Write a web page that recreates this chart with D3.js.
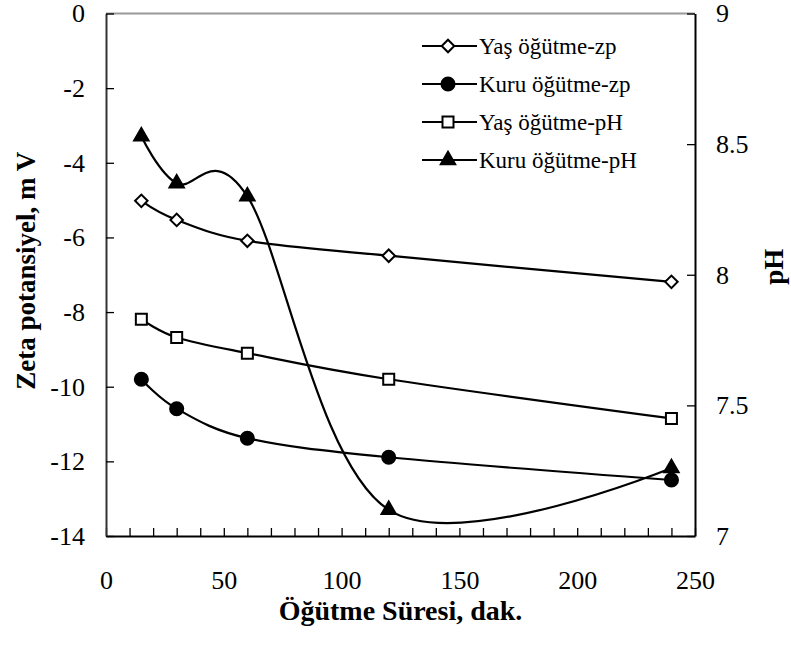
<!DOCTYPE html>
<html>
<head>
<meta charset="utf-8">
<script src="https://cdn.jsdelivr.net/npm/d3@7"></script>
<style>
  body { margin: 0; background: #fff; }
</style>
</head>
<body>
<svg id="chart"></svg>
<script>
var w = 791;
var h = 650;
var serif = "'Liberation Serif', 'Times New Roman', Times, 'Nimbus Roman', 'Noto Serif', Tinos, FreeSerif, 'DejaVu Serif', serif";

// grinding time, minutes
var times = [15, 30, 60, 120, 240];
// zeta potential, mV (left axis)
var wetZp = [-5.02, -5.53, -6.09, -6.49, -7.19];
var dryZp = [-9.8, -10.59, -11.38, -11.89, -12.5];
// pH (right axis)
var wetPh = [7.83, 7.76, 7.70, 7.60, 7.45];
var dryPh = [8.53, 8.35, 8.30, 7.10, 7.26];

var xTicks = [0, 50, 100, 150, 200, 250];
var zpTicks = [0, -2, -4, -6, -8, -10, -12, -14];
var phTicks = [7, 7.5, 8, 8.5, 9];

var seriesNames = ["Yaş öğütme-zp", "Kuru öğütme-zp", "Yaş öğütme-pH", "Kuru öğütme-pH"];

var m = {left: 106, right: 96, top: 13.5, bottom: 114};

var svg = d3.select("#chart")
    .attr("width", w)
    .attr("height", h)
    .style("font-family", serif);

var x = d3.scaleLinear().domain([0, 250]).range([m.left, w - m.right]);
var yL = d3.scaleLinear().domain([-14, 0]).range([h - m.bottom, m.top]);
var yR = d3.scaleLinear().domain([7, 9]).range([h - m.bottom, m.top]);

// top border
svg.append("line")
    .attr("x1", x(0)).attr("x2", x(250))
    .attr("y1", yL(0)).attr("y2", yL(0))
    .style("stroke", "#999")
    .style("stroke-width", 2);

var xAxis = d3.axisBottom(x)
    .tickValues(d3.range(0, 251, 10))
    .tickSizeInner(-8)
    .tickSizeOuter(0)
    .tickPadding(35)
    .tickFormat(d => xTicks.indexOf(d) >= 0 ? String(d) : "");

var leftAxis = d3.axisLeft(yL)
    .tickValues(zpTicks)
    .tickSizeInner(-8)
    .tickSizeOuter(0)
    .tickPadding(21)
    .tickFormat(d => String(d));

var rightAxis = d3.axisRight(yR)
    .tickValues(phTicks)
    .tickSizeInner(-8)
    .tickSizeOuter(0)
    .tickPadding(21)
    .tickFormat(d => String(d));

var gx = svg.append("g")
    .attr("transform", "translate(0," + yL(-14) + ")")
    .call(xAxis);
var gl = svg.append("g")
    .attr("transform", "translate(" + x(0) + ",0)")
    .call(leftAxis);
var gr = svg.append("g")
    .attr("transform", "translate(" + x(250) + ",0)")
    .call(rightAxis);

[gx, gl, gr].forEach(function (g) {
    g.attr("font-family", null).attr("font-size", 26);
    g.selectAll("text").attr("fill", "#000");
    g.selectAll("line").style("stroke", "#000").style("stroke-width", 1.3);
    g.select(".domain").style("stroke", "#000").style("stroke-width", 2);
});
gl.select(".domain").style("stroke", "#333");

// axis titles
svg.append("text")
    .attr("x", (x(0) + x(250)) / 2)
    .attr("y", 620)
    .attr("text-anchor", "middle")
    .attr("font-weight", "bold")
    .attr("font-size", 28)
    .text("Öğütme Süresi, dak.");

svg.append("text")
    .attr("transform", "translate(35," + (yL(-7) - 4) + ") rotate(-90)")
    .attr("text-anchor", "middle")
    .attr("font-weight", "bold")
    .attr("font-size", 27)
    .text("Zeta potansiyel, m V");

svg.append("text")
    .attr("transform", "translate(783," + (yR(8) - 8) + ") rotate(-90)")
    .attr("text-anchor", "middle")
    .attr("font-weight", "bold")
    .attr("font-size", 27)
    .text("pH");

var smooth = d3.curveCardinal.tension(0);

// open diamond = square turned 45 degrees
var series = [
    {name: seriesNames[0], vals: wetZp, y: yL, sym: d3.symbolSquare, rot: 45, size: 78, fill: "#fff"},
    {name: seriesNames[1], vals: dryZp, y: yL, sym: d3.symbolCircle, rot: 0, size: 135, fill: "#000"},
    {name: seriesNames[2], vals: wetPh, y: yR, sym: d3.symbolSquare, rot: 0, size: 121, fill: "#fff"},
    {name: seriesNames[3], vals: dryPh, y: yR, sym: d3.symbolTriangle, rot: 0, size: 90, fill: "#000"}
];

var plot = svg.append("g");

series.forEach(function (s) {
    var pts = times.map((t, i) => [t, s.vals[i]]);
    var line = d3.line()
        .x(d => x(d[0]))
        .y(d => s.y(d[1]))
        .curve(smooth);
    plot.append("path")
        .datum(pts)
        .attr("d", line)
        .style("fill", "none")
        .style("stroke", "#000")
        .style("stroke-width", 2.2);
});

series.forEach(function (s) {
    var pts = times.map((t, i) => [t, s.vals[i]]);
    var sym = d3.symbol().type(s.sym).size(s.size);
    plot.selectAll(null)
        .data(pts)
        .enter().append("path")
        .attr("d", sym)
        .attr("transform", d => "translate(" + x(d[0]) + "," + s.y(d[1]) + ") rotate(" + s.rot + ")")
        .style("fill", s.fill)
        .style("stroke", "#000")
        .style("stroke-width", 2);
});

// legend
var legend = svg.append("g").attr("transform", "translate(422,46)");
series.forEach(function (s, i) {
    var row = legend.append("g").attr("transform", "translate(0," + (i * 38) + ")");
    row.append("line")
        .attr("x1", 0).attr("x2", 55)
        .style("stroke", "#000")
        .style("stroke-width", 2.2);
    row.append("path")
        .attr("d", d3.symbol().type(s.sym).size(s.size)())
        .attr("transform", "translate(26,0) rotate(" + s.rot + ")")
        .style("fill", s.fill)
        .style("stroke", "#000")
        .style("stroke-width", 2);
    row.append("text")
        .attr("x", 57)
        .attr("y", 8)
        .attr("font-size", 23)
        .text(s.name);
});
</script>
</body>
</html>
